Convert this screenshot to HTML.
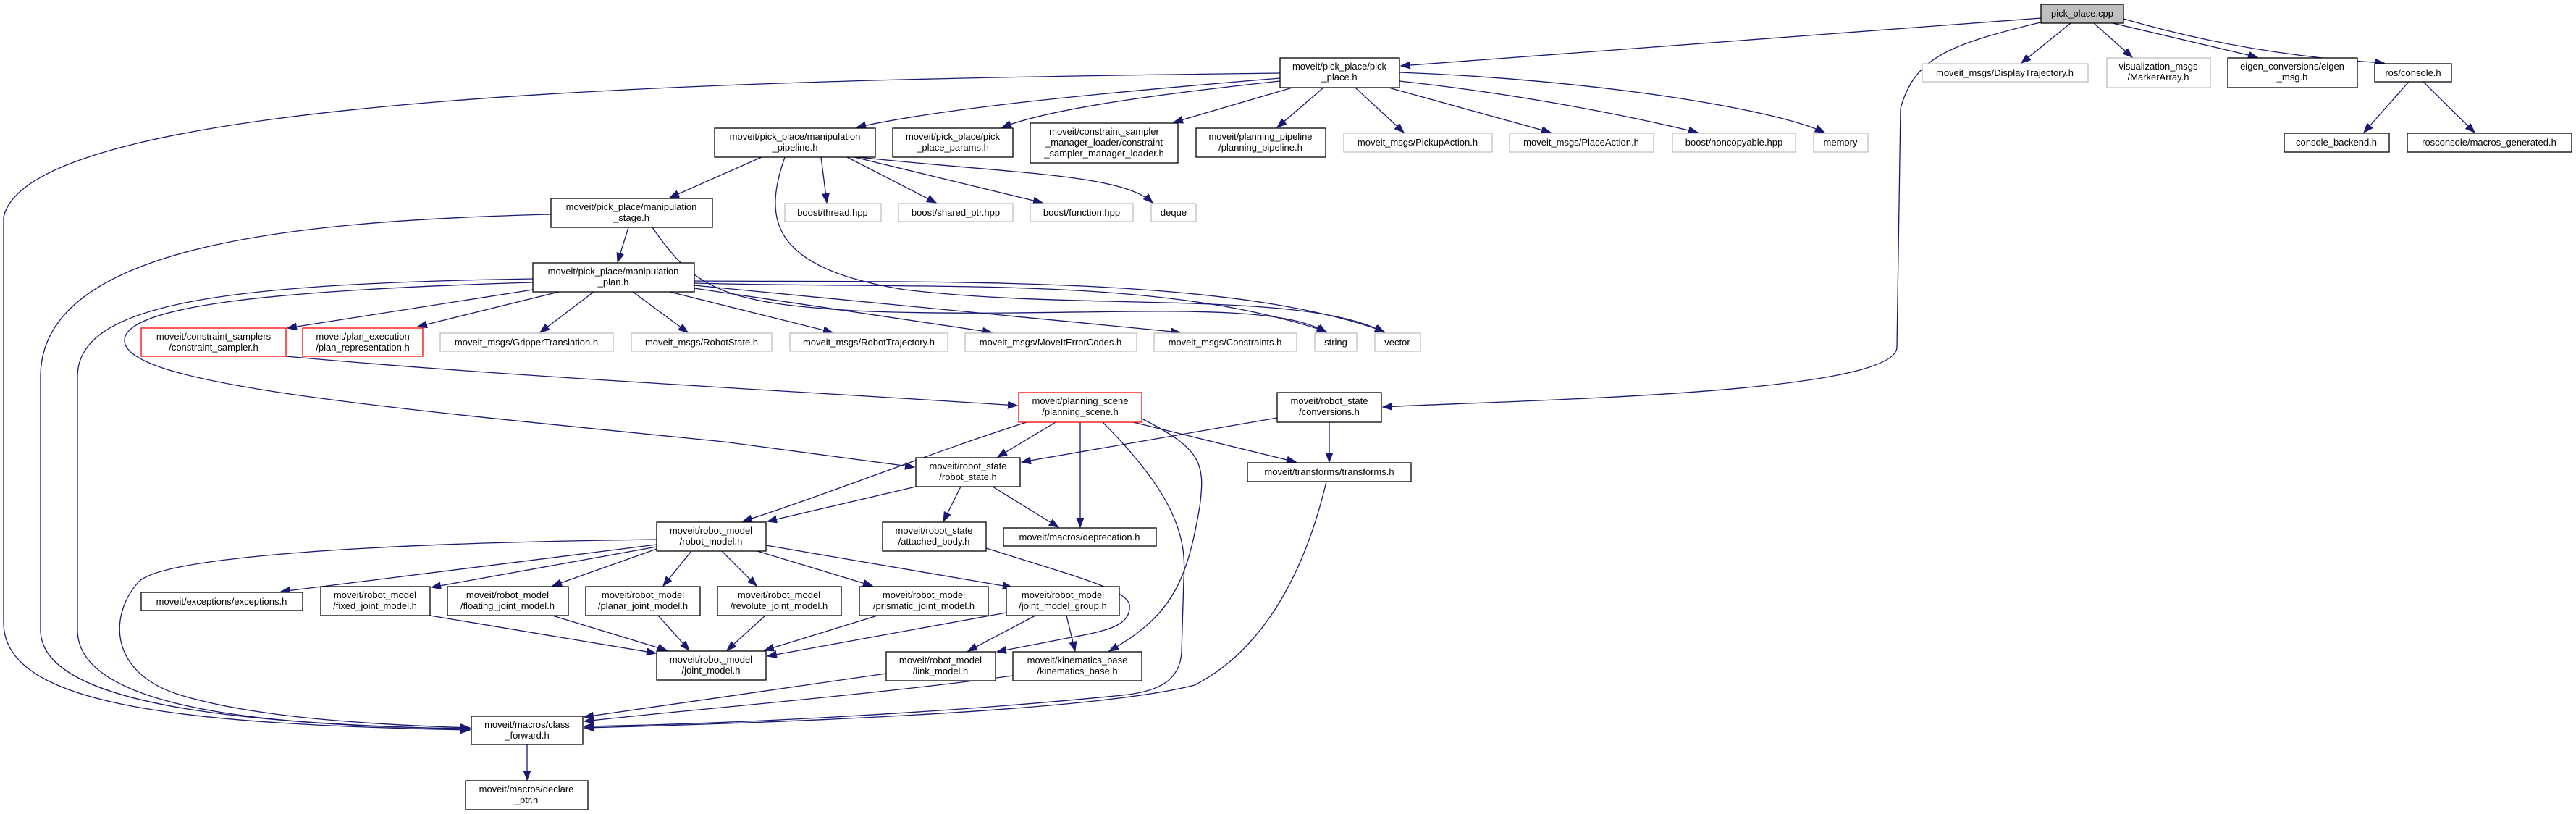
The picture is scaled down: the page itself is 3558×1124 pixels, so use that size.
<!DOCTYPE html>
<html><head><meta charset="utf-8"><style>
html,body{margin:0;padding:0;background:#fff;}
svg{display:block;}
text{font-family:"Liberation Sans",sans-serif;font-size:13px;fill:#000;text-anchor:middle;}
.b{fill:#fff;stroke:#000;stroke-width:1.3;}
.g{fill:#fff;stroke:#bfbfbf;stroke-width:1.3;}
.r{fill:#fff;stroke:#ff0000;stroke-width:1.3;}
.e{fill:none;stroke:#191970;stroke-width:1.3;marker-end:url(#a);}
</style></head><body>
<svg width="3558" height="1124" viewBox="0 0 3558 1124" xmlns="http://www.w3.org/2000/svg">
<defs><marker id="a" markerUnits="userSpaceOnUse" markerWidth="14" markerHeight="12" refX="13" refY="5" orient="auto"><path d="M0,0 L13,5 L0,10 z" fill="#191970" stroke="#191970"/></marker></defs>

<!-- edges -->
<path class="e" d="M2819,25 L1935,91"/>
<path class="e" d="M2830,28 C2700,60 2645,75 2625,150 L2620,480 C2615,545 2100,552 1910,562"/>
<path class="e" d="M2860,32 L2792,87"/>
<path class="e" d="M2892,32 L2945,79"/>
<path class="e" d="M2918,32 L3118,79"/>
<path class="e" d="M2933,26 C3050,60 3170,80 3293,87"/>
<path class="e" d="M3327,113 L3265,183"/>
<path class="e" d="M3347,113 L3418,183"/>

<path class="e" d="M1768,101 C1000,110 40,130 5,300 L5,860 C5,975 250,1000 649,1008"/>
<path class="e" d="M1768,108 C1500,130 1300,150 1183,176"/>
<path class="e" d="M1768,112 C1600,130 1450,150 1384,176"/>
<path class="e" d="M1785,121 L1621,169"/>
<path class="e" d="M1828,121 L1764,176"/>
<path class="e" d="M1872,121 L1939,183"/>
<path class="e" d="M1918,121 L2142,183"/>
<path class="e" d="M1933,112 C2100,130 2250,160 2345,183"/>
<path class="e" d="M1933,100 C2200,110 2450,150 2520,183"/>

<path class="e" d="M1052,217 L925,273"/>
<path class="e" d="M1134,217 L1142,280"/>
<path class="e" d="M1170,217 L1293,280"/>
<path class="e" d="M1180,217 L1440,280"/>
<path class="e" d="M1185,217 C1400,240 1550,240 1592,280"/>
<path class="e" d="M1084,217 C1055,300 1060,370 1250,400 C1500,430 1800,400 1912,459"/>

<path class="e" d="M868,314 L853,362"/>
<path class="e" d="M761,296 C400,305 56,340 56,520 L56,870 C56,985 400,1000 649,1007"/>
<path class="e" d="M901,314 C960,400 1000,420 1200,430 C1500,440 1750,410 1832,459"/>

<path class="e" d="M736,400 L397,453"/>
<path class="e" d="M772,403 L577,451"/>
<path class="e" d="M820,403 L746,459"/>
<path class="e" d="M874,403 L950,459"/>
<path class="e" d="M925,403 L1150,459"/>
<path class="e" d="M959,398 L1370,459"/>
<path class="e" d="M959,394 L1630,459"/>
<path class="e" d="M959,391 C1300,400 1600,380 1832,458"/>
<path class="e" d="M959,388 C1300,390 1700,380 1912,458"/>
<path class="e" d="M736,385 C300,392 107,420 107,520 L107,870 C107,985 400,1003 649,1006"/>
<path class="e" d="M736,390 C400,400 172,420 172,470 C172,530 500,560 1000,610 L1263,645"/>
<path class="e" d="M395,492 C700,520 1100,540 1405,560"/>

<path class="e" d="M1458,583 L1378,631"/>
<path class="e" d="M1418,583 C1300,620 1150,680 1026,720"/>
<path class="e" d="M1492,583 L1492,728"/>
<path class="e" d="M1565,583 L1790,638"/>
<path class="e" d="M1523,583 C1620,680 1640,740 1635,800 L1632,900 C1630,940 1600,955 1550,960 C1300,985 1000,1000 807,1003"/>
<path class="e" d="M1577,578 C1660,620 1665,640 1657,700 C1640,800 1620,850 1532,899"/>

<path class="e" d="M1764,577 L1411,638"/>
<path class="e" d="M1836,583 L1836,638"/>

<path class="e" d="M1265,672 L1060,720"/>
<path class="e" d="M1327,672 L1303,720"/>
<path class="e" d="M1371,672 L1462,728"/>

<path class="e" d="M1832,665 C1800,800 1740,900 1650,946 C1500,985 1000,1000 807,1005"/>

<path class="e" d="M907,745 C500,750 220,770 191,804 C150,850 150,930 250,960 C350,990 500,1000 649,1005"/>
<path class="e" d="M907,752 L388,817"/>
<path class="e" d="M907,755 L596,811"/>
<path class="e" d="M907,758 L763,809"/>
<path class="e" d="M955,761 L916,809"/>
<path class="e" d="M997,761 L1045,809"/>
<path class="e" d="M1046,761 L1205,809"/>
<path class="e" d="M1058,753 L1398,811"/>

<path class="e" d="M594,850 L906,902"/>
<path class="e" d="M763,850 L921,898"/>
<path class="e" d="M909,850 L952,898"/>
<path class="e" d="M1057,850 L1004,898"/>
<path class="e" d="M1212,850 L1056,898"/>
<path class="e" d="M1390,846 L1060,906"/>
<path class="e" d="M1430,850 L1337,899"/>
<path class="e" d="M1473,850 L1485,899"/>
<path class="e" d="M1362,757 C1500,800 1555,815 1560,835 C1562,860 1540,870 1480,880 L1377,900"/>
<path class="e" d="M1224,930 L807,990"/>
<path class="e" d="M1399,933 C1200,960 900,985 807,996"/>
<path class="e" d="M728,1028 L728,1077"/>

<!-- nodes -->
<rect x="2819" y="6" width="114" height="26" fill="#bfbfbf" stroke="#000" stroke-width="1.3"/><text x="2876" y="23">pick_place.cpp</text>
<rect class="g" x="2655" y="88" width="229" height="25"/><text x="2769" y="105">moveit_msgs/DisplayTrajectory.h</text>
<rect class="g" x="2910" y="80" width="143" height="41"/><text x="2981" y="96">visualization_msgs</text><text x="2981" y="111">/MarkerArray.h</text>
<rect class="b" x="3077" y="80" width="179" height="41"/><text x="3166" y="96">eigen_conversions/eigen</text><text x="3166" y="111">_msg.h</text>
<rect class="b" x="3280" y="88" width="106" height="25"/><text x="3333" y="105">ros/console.h</text>
<rect class="b" x="3155" y="184" width="145" height="26"/><text x="3227" y="201">console_backend.h</text>
<rect class="b" x="3325" y="184" width="227" height="26"/><text x="3438" y="201">rosconsole/macros_generated.h</text>

<rect class="b" x="1768" y="80" width="165" height="41"/><text x="1850" y="96">moveit/pick_place/pick</text><text x="1850" y="111">_place.h</text>
<rect class="b" x="987" y="177" width="222" height="40"/><text x="1098" y="193">moveit/pick_place/manipulation</text><text x="1098" y="208">_pipeline.h</text>
<rect class="b" x="1233" y="177" width="166" height="40"/><text x="1316" y="193">moveit/pick_place/pick</text><text x="1316" y="208">_place_params.h</text>
<rect class="b" x="1423" y="170" width="204" height="55"/><text x="1525" y="186">moveit/constraint_sampler</text><text x="1525" y="201">_manager_loader/constraint</text><text x="1525" y="216">_sampler_manager_loader.h</text>
<rect class="b" x="1652" y="177" width="179" height="40"/><text x="1741" y="193">moveit/planning_pipeline</text><text x="1741" y="208">/planning_pipeline.h</text>
<rect class="g" x="1856" y="184" width="205" height="26"/><text x="1958" y="201">moveit_msgs/PickupAction.h</text>
<rect class="g" x="2085" y="184" width="199" height="26"/><text x="2184" y="201">moveit_msgs/PlaceAction.h</text>
<rect class="g" x="2310" y="184" width="170" height="26"/><text x="2395" y="201">boost/noncopyable.hpp</text>
<rect class="g" x="2505" y="184" width="75" height="26"/><text x="2542" y="201">memory</text>

<rect class="b" x="761" y="274" width="223" height="40"/><text x="872" y="290">moveit/pick_place/manipulation</text><text x="872" y="305">_stage.h</text>
<rect class="g" x="1084" y="281" width="133" height="25"/><text x="1150" y="298">boost/thread.hpp</text>
<rect class="g" x="1241" y="281" width="158" height="25"/><text x="1320" y="298">boost/shared_ptr.hpp</text>
<rect class="g" x="1423" y="281" width="142" height="25"/><text x="1494" y="298">boost/function.hpp</text>
<rect class="g" x="1590" y="281" width="62" height="25"/><text x="1621" y="298">deque</text>

<rect class="b" x="736" y="363" width="223" height="40"/><text x="847" y="379">moveit/pick_place/manipulation</text><text x="847" y="394">_plan.h</text>
<rect class="r" x="195" y="453" width="200" height="39"/><text x="295" y="469">moveit/constraint_samplers</text><text x="295" y="484">/constraint_sampler.h</text>
<rect class="r" x="418" y="453" width="166" height="39"/><text x="501" y="469">moveit/plan_execution</text><text x="501" y="484">/plan_representation.h</text>
<rect class="g" x="608" y="460" width="239" height="25"/><text x="727" y="477">moveit_msgs/GripperTranslation.h</text>
<rect class="g" x="872" y="460" width="194" height="25"/><text x="969" y="477">moveit_msgs/RobotState.h</text>
<rect class="g" x="1091" y="460" width="218" height="25"/><text x="1200" y="477">moveit_msgs/RobotTrajectory.h</text>
<rect class="g" x="1333" y="460" width="237" height="25"/><text x="1451" y="477">moveit_msgs/MoveItErrorCodes.h</text>
<rect class="g" x="1594" y="460" width="197" height="25"/><text x="1692" y="477">moveit_msgs/Constraints.h</text>
<rect class="g" x="1816" y="460" width="58" height="25"/><text x="1845" y="477">string</text>
<rect class="g" x="1899" y="460" width="63" height="25"/><text x="1930" y="477">vector</text>

<rect class="r" x="1407" y="542" width="170" height="41"/><text x="1492" y="558">moveit/planning_scene</text><text x="1492" y="573">/planning_scene.h</text>
<rect class="b" x="1764" y="542" width="144" height="41"/><text x="1836" y="558">moveit/robot_state</text><text x="1836" y="573">/conversions.h</text>
<rect class="b" x="1265" y="632" width="144" height="40"/><text x="1337" y="648">moveit/robot_state</text><text x="1337" y="663">/robot_state.h</text>
<rect class="b" x="1723" y="639" width="226" height="26"/><text x="1836" y="656">moveit/transforms/transforms.h</text>

<rect class="b" x="907" y="721" width="151" height="40"/><text x="982" y="737">moveit/robot_model</text><text x="982" y="752">/robot_model.h</text>
<rect class="b" x="1219" y="721" width="143" height="40"/><text x="1290" y="737">moveit/robot_state</text><text x="1290" y="752">/attached_body.h</text>
<rect class="b" x="1386" y="729" width="211" height="25"/><text x="1491" y="746">moveit/macros/deprecation.h</text>

<rect class="b" x="195" y="818" width="223" height="25"/><text x="306" y="835">moveit/exceptions/exceptions.h</text>
<rect class="b" x="443" y="810" width="151" height="40"/><text x="518" y="826">moveit/robot_model</text><text x="518" y="841">/fixed_joint_model.h</text>
<rect class="b" x="618" y="810" width="167" height="40"/><text x="701" y="826">moveit/robot_model</text><text x="701" y="841">/floating_joint_model.h</text>
<rect class="b" x="809" y="810" width="158" height="40"/><text x="888" y="826">moveit/robot_model</text><text x="888" y="841">/planar_joint_model.h</text>
<rect class="b" x="991" y="810" width="171" height="40"/><text x="1076" y="826">moveit/robot_model</text><text x="1076" y="841">/revolute_joint_model.h</text>
<rect class="b" x="1187" y="810" width="178" height="40"/><text x="1276" y="826">moveit/robot_model</text><text x="1276" y="841">/prismatic_joint_model.h</text>
<rect class="b" x="1390" y="810" width="156" height="40"/><text x="1468" y="826">moveit/robot_model</text><text x="1468" y="841">/joint_model_group.h</text>

<rect class="b" x="907" y="899" width="151" height="40"/><text x="982" y="915">moveit/robot_model</text><text x="982" y="930">/joint_model.h</text>
<rect class="b" x="1224" y="900" width="151" height="40"/><text x="1299" y="916">moveit/robot_model</text><text x="1299" y="931">/link_model.h</text>
<rect class="b" x="1399" y="900" width="178" height="40"/><text x="1488" y="916">moveit/kinematics_base</text><text x="1488" y="931">/kinematics_base.h</text>

<rect class="b" x="651" y="989" width="154" height="39"/><text x="728" y="1005">moveit/macros/class</text><text x="728" y="1020">_forward.h</text>
<rect class="b" x="643" y="1078" width="169" height="40"/><text x="727" y="1094">moveit/macros/declare</text><text x="727" y="1109">_ptr.h</text>
</svg>
</body></html>
